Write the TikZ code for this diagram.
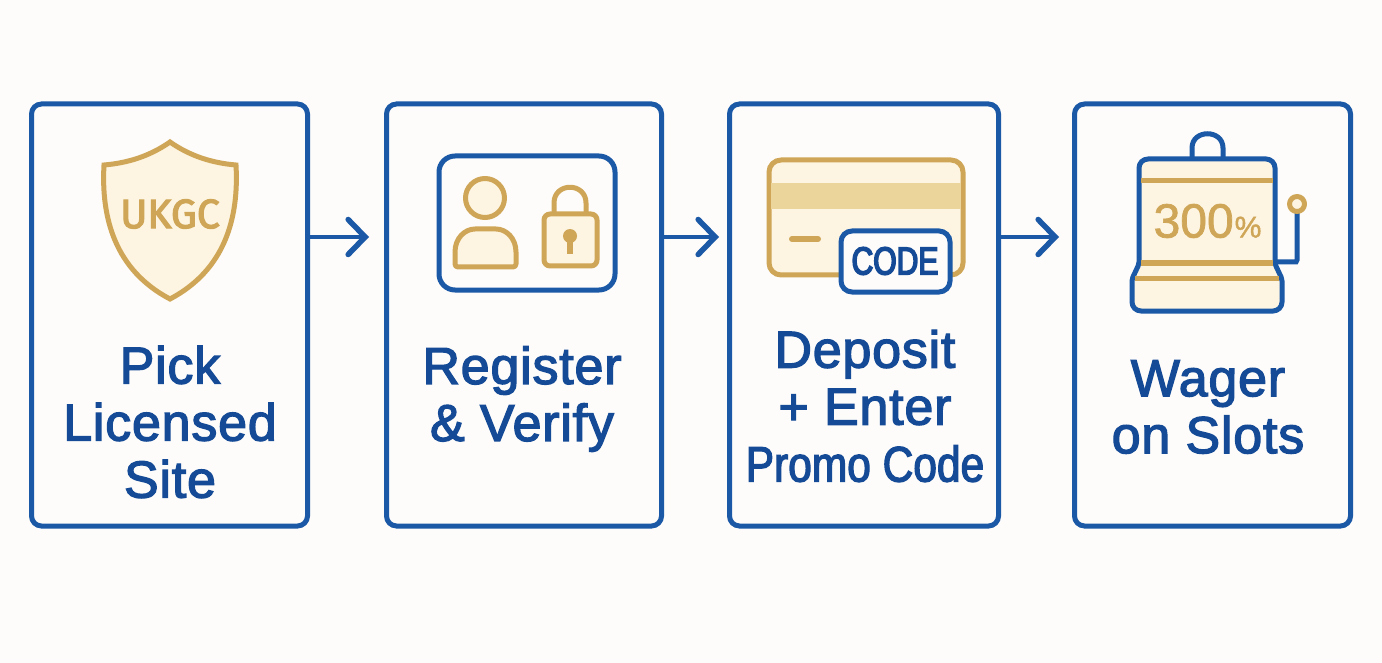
\documentclass[tikz,border=0pt]{standalone}
\usepackage{fontspec}
\setmainfont{Liberation Sans}
\newfontfamily\labelfont[FakeBold=2.5,LetterSpace=1.5]{Liberation Sans}
\newfontfamily\promofont[FakeBold=2.5,FakeStretch=0.85]{Liberation Sans}
\newfontfamily\codefont[FakeBold=4,FakeStretch=0.77]{Liberation Sans}
\newfontfamily\badgefont[FakeBold=3]{Fira Sans}
\newfontfamily\bonusfont[FakeBold=1.5]{Liberation Sans}
\usetikzlibrary{arrows.meta,positioning}
\definecolor{paper}{HTML}{FDFCFA}
\definecolor{stepblue}{HTML}{1B59A6}
\definecolor{inkblue}{HTML}{154A96}
\definecolor{gold}{HTML}{CFA658}
\definecolor{cream}{HTML}{FDF5E1}
\definecolor{stripe}{HTML}{ECD59B}

\begin{document}
\begin{tikzpicture}[
    x=1pt, y=-1pt,
    stepcard/.style={rectangle, draw=stepblue, line width=5pt, rounded corners=10pt, minimum height=422pt, outer sep=0pt, inner sep=0pt},
    arrow/.style={-{Straight Barb[length=17pt,width=35pt,line cap=round,line width=5.5pt]}, draw=stepblue, line width=4.5pt},
    steplabel/.style={align=center, text=inkblue, font=\labelfont\fontsize{52}{57}\selectfont},
    goldline/.style={draw=gold, line width=5pt, fill=cream, line join=round},
    blueline/.style={draw=stepblue, line width=5pt},
    goldbar/.style={draw=gold, line width=5pt}
]
\useasboundingbox (0,0) rectangle (1382,663);
\fill[paper] (0,0) rectangle (1382,663);

% cards
\node[stepcard, minimum width=276pt] (pick) at (169.5,315) {};
\node[stepcard, minimum width=275pt, right=79pt of pick] (register) {};
\node[stepcard, minimum width=269pt, right=68pt of register] (deposit) {};
\node[stepcard, minimum width=276pt, right=76pt of deposit] (wager) {};

% arrows
\coordinate (tip1) at (369,237);
\coordinate (tip2) at (719,237);
\coordinate (tip3) at (1059,237);
\draw[arrow] (pick.east |- tip1) -- (tip1);
\draw[arrow] (register.east |- tip2) -- (tip2);
\draw[arrow] (deposit.east |- tip3) -- (tip3);

% shield
\draw[goldline, line join=miter] (170,142) .. controls (190,156) and (212,163) .. (236,165)
    .. controls (239,218) and (225,270) .. (170,299)
    .. controls (115,270) and (101,218) .. (104,165)
    .. controls (128,163) and (150,156) .. (170,142) -- cycle;
\node[text=gold, font=\badgefont\fontsize{41}{41}\selectfont] (ukgc) at (170,214) {UKGC};

% id frame with person and lock
\draw[blueline, rounded corners=16pt] (439,156) rectangle (615,290);
\draw[goldline] (485,198) circle[radius=19.5pt];
\draw[goldline, rounded corners=3pt] (455,267) -- (455,255)
    .. controls (455,238) and (465,229) .. (478,229) -- (493,229)
    .. controls (506,229) and (516,238) .. (516,255) -- (516,267) -- cycle;
\draw[goldline, fill=none] (554,214) -- (554,203) .. controls (554,182) and (586,182) .. (586,203) -- (586,214);
\draw[goldline, rounded corners=6pt] (544,214) rectangle (597,266);
\fill[gold] (570,236) circle[radius=7pt];
\fill[gold] (567,236) rectangle (573,254);

% payment card with code tag
\draw[goldline, rounded corners=12pt] (769,160) rectangle (963,275);
\fill[stripe] (771,183) rectangle (961,209);
\draw[gold, line width=6pt, line cap=round] (792,239) -- (818,239);
\draw[blueline, fill=paper, rounded corners=11pt] (841,231) rectangle (950,292);
\node[text=inkblue, font=\codefont\fontsize{39}{39}\selectfont] (code) at (895,261) {CODE};

% slot machine
\draw[blueline] (1192,159) -- (1192,148) .. controls (1192,129) and (1223,129) .. (1223,148) -- (1223,159);
\draw[blueline, rounded corners=3pt] (1277,262) -- (1293,262) .. controls (1296,262) and (1297,260) .. (1297,257) -- (1297,212);
\draw[blueline, fill=cream, rounded corners=9pt] (1139,159) -- (1275,159) [rounded corners=2pt] -- (1275,264) -- (1282,279) [rounded corners=9pt] -- (1282,311) -- (1132,311) [rounded corners=2pt] -- (1132,279) -- (1139,264) [rounded corners=9pt] -- cycle;
\draw[goldbar] (1141,180.5) -- (1273,180.5);
\draw[goldbar, line width=6pt] (1141,263) -- (1273,263);
\draw[goldbar] (1135,279) -- (1279,279);
\draw[goldline] (1297,204) circle[radius=7.5pt];
\node[text=gold, font=\bonusfont\fontsize{48}{48}\selectfont, inner sep=0pt] (bonus) at (1207.5,221) {300{\kern1pt\fontsize{30}{30}\selectfont\%}};

% labels
\node[steplabel] (picklabel) at (170,422) {Pick\\Licensed\\Site};
\node[steplabel] (registerlabel) at (522,399) {Register\\\&~Verify};
\node[steplabel] (depositlabel) at (865,406) {Deposit\\+ Enter\\{\promofont\fontsize{50}{57}\selectfont Promo Code}};
\node[steplabel] (wagerlabel) at (1208,407) {Wager\\on Slots};
\end{tikzpicture}
\end{document}
